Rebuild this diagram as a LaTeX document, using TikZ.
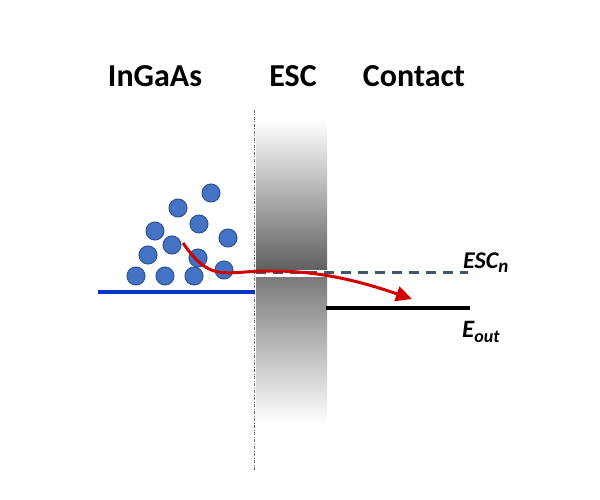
\documentclass[tikz,border=0pt]{standalone}
\usepackage{fontspec}
\setmainfont{Carlito}
\usetikzlibrary{arrows.meta}

\definecolor{dotblue}{RGB}{68,114,196}
\definecolor{dotedge}{RGB}{47,82,143}
\definecolor{levelblue}{RGB}{10,50,200}
\definecolor{dashgray}{RGB}{68,84,106}
\definecolor{pathred}{RGB}{210,0,0}

\begin{document}
\begin{tikzpicture}[x=1pt,y=-1pt,
	electron/.style={circle, fill=dotblue, draw=dotedge, line width=1pt, minimum size=18pt, inner sep=0pt},
	title/.style={font=\bfseries\fontsize{32}{36}\selectfont, anchor=base},
	levelname/.style={anchor=base west, inner sep=0pt},
	level/.style={line width=3.5pt}]
			\useasboundingbox (0,0) rectangle (600,500);

			% barrier
			\shade[top color=white, bottom color=black!62] (256,120) rectangle (327,269);
			\shade[top color=black!52, bottom color=white] (256,277) rectangle (327,424);
			\draw[black!55, line width=1pt, dash pattern=on 3pt off 1.5pt on 1pt off 1.5pt] (254,110) -- (254,470);

			\node[title] (ingaas) at (155,87) {InGaAs};
			\node[title] (esc) at (293,87) {ESC};
			\node[title] (contact) at (414,87) {Contact};

			\coordinate (b1) at (98,292);
			\coordinate (b2) at (255,292);
			\coordinate (n1) at (256,272);
			\coordinate (n2) at (468,272);
			\coordinate (o1) at (326,308);
			\coordinate (o2) at (470,308);

			\draw[level, levelblue] (b1) -- (b2);
			\draw[dashgray, line width=3pt, dash pattern=on 10pt off 7pt] (n1) -- (n2);
			\draw[level, black] (o1) -- (o2);

			\node[levelname, font=\bfseries\itshape\fontsize{24}{26}\selectfont] (escn) at (463,268)
				{ESC\raisebox{-4pt}{\fontsize{19}{19}\selectfont n}};
			\node[levelname, font=\bfseries\itshape\fontsize{25}{28}\selectfont] (eout) at (462,337)
				{E\raisebox{-5pt}{\fontsize{18}{18}\selectfont out}};

			\foreach \x/\y [count=\i] in {211/193, 178/208, 199/224, 155/231, 172/245, 228/238,
				148/255, 198/258, 136/276, 165/276, 194/276, 224/270}
				\node[electron] (e\i) at (\x,\y) {};

			\coordinate (start) at (183,243);
			\coordinate (finish) at (412,299);
			\draw[pathred, line width=3pt, -{Triangle[length=16pt, width=15pt]}]
			(start) .. controls (205,275) and (218,274) .. (245,272)
			.. controls (300,268) and (345,276) .. (finish);
		\end{tikzpicture}
\end{document}
